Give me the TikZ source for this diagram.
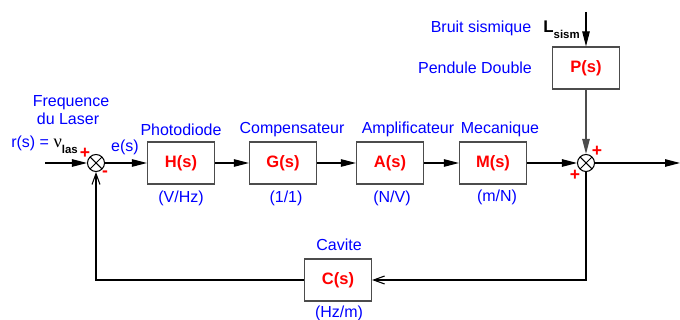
\documentclass[tikz,border=0pt]{standalone}
\usepackage{fontspec}
\setmainfont{Liberation Sans}
\newfontfamily\greekfont{Liberation Serif}
\usetikzlibrary{arrows.meta}

\begin{document}
\begin{tikzpicture}
[
	x=0.02cm, y=-0.02cm,
	block/.style={draw=black!70,line width=0.7pt,minimum width=1.34cm,minimum height=0.84cm,inner sep=0pt,text=red,font=\fontsize{9.4}{11}\selectfont\bfseries},
	sumpt/.style={circle,draw,line width=0.6pt,minimum size=0.34cm,inner sep=0pt,
		path picture={\draw (path picture bounding box.north west) -- (path picture bounding box.south east)
			(path picture bounding box.north east) -- (path picture bounding box.south west);}},
	lbl/.style={text=blue,inner sep=0pt,font=\fontsize{9.1}{11}\selectfont},
	sgn/.style={text=red,inner sep=0pt,font=\fontsize{10}{10}\selectfont\bfseries},
	sig/.style={line width=0.6pt,-{Triangle[length=0.3cm,width=0.15cm]}},
	fb/.style={line width=0.6pt,-{Straight Barb[length=0.22cm,width=0.16cm]}}
]
	\useasboundingbox (0,0) rectangle (680,320);

	% blocks
	\node[sumpt] (s1) at (96,163) {};
	\node[block] (h) at (181,163) {H(s)};
	\node[block] (g) at (283,163) {G(s)};
	\node[block] (a) at (390,163) {A(s)};
	\node[block] (m) at (493,163) {M(s)};
	\node[sumpt] (s2) at (586,163) {};
	\node[block] (p) at (586,68) {P(s)};
	\node[block] (c) at (338,280) {C(s)};

	\coordinate (in) at (45,163);
	\coordinate (out) at (680,163);
	\coordinate (top) at (586,12);

	% forward path
	\draw[sig] (in) -- (s1);
	\draw[sig] (s1) -- (h);
	\draw[sig] (h) -- (g);
	\draw[sig] (g) -- (a);
	\draw[sig] (a) -- (m);
	\draw[sig] (m) -- (s2);
	\draw[sig] (s2) -- (out);
	\draw[sig] (top) -- (p);
	\draw[sig,draw=black!70] (p) -- (s2);

	% feedback
	\draw[fb] (s2) |- (c);
	\draw[fb] (c) -| (s1);

	% labels
	\node[lbl] (freq) at (71,103) {Frequence};
	\node[lbl] (laser) at (68,119) {du Laser};
	\node[lbl,anchor=base west] (rs) at (11,148) {r(s) = \textcolor{black}{{\greekfont\fontsize{10.5}{11}\selectfont ν}\raisebox{-0.7ex}{\fontsize{6.5}{7}\selectfont\bfseries las}}};
	\node[lbl] (es) at (125,147) {e(s)};
	\node[lbl] (lh) at (181,130) {Photodiode};
	\node[lbl] (lg) at (292,130) {Compensateur};
	\node[lbl] (la) at (408,129) {Amplificateur};
	\node[lbl] (lm) at (500,129) {Mecanique};
	\node[lbl] (uh) at (181,198) {(V/Hz)};
	\node[lbl] (ug) at (286,198) {(1/1)};
	\node[lbl] (ua) at (392,198) {(N/V)};
	\node[lbl] (um) at (497,197) {(m/N)};
	\node[lbl] (lc) at (339,245) {Cavite};
	\node[lbl] (uc) at (339,313) {(Hz/m)};
	\node[lbl] (bruit) at (481,28) {Bruit sismique};
	\node[anchor=base west,inner sep=0pt,font=\fontsize{9.6}{11}\selectfont\bfseries] (lsism) at (543,33) {L\raisebox{-0.6ex}{\fontsize{6.5}{7}\selectfont sism}};
	\node[lbl] (lp) at (475,68) {Pendule Double};

	% signs
	\node[sgn] (p1) at (85,153) {+};
	\node[sgn] (m1) at (105,174) {-};
	\node[sgn] (p2) at (597,151) {+};
	\node[sgn] (p3) at (575,175) {+};

\end{tikzpicture}
\end{document}
